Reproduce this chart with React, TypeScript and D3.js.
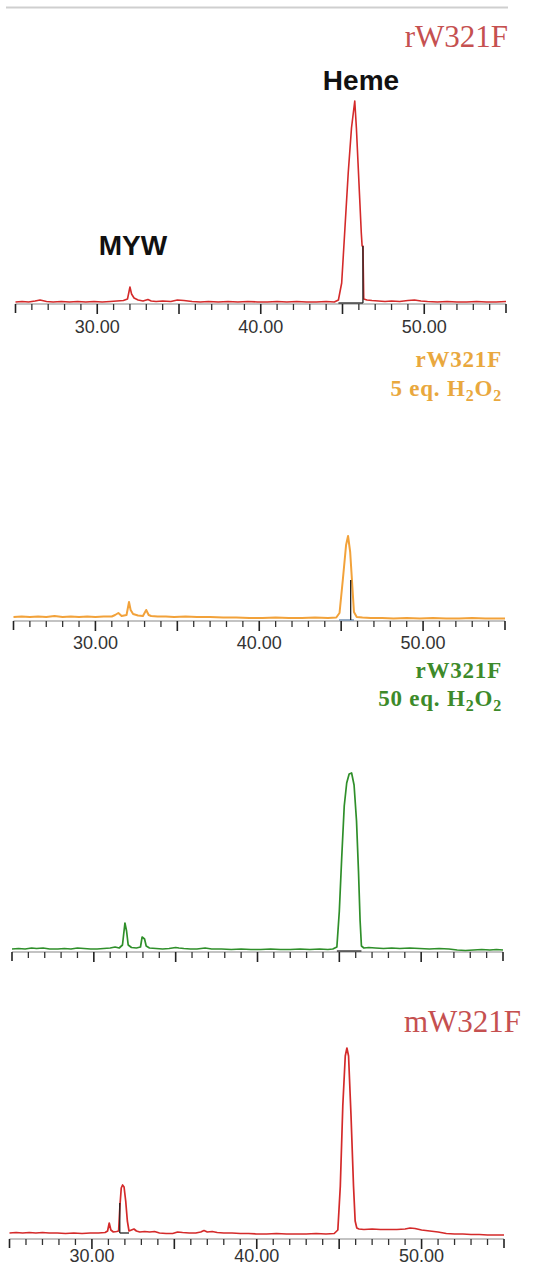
import React from "react";
import * as d3 from "d3";

// Retention time (min) vs detector signal (height above baseline)
const traceRW321F: [number, number][] = [
  [25.0, 1], [25.4, 1.5], [25.8, 1], [26.2, 2], [26.5, 3], [26.9, 1.5], [27.3, 1], [27.8, 1.5],
  [28.3, 1], [28.8, 1.5], [29.3, 1], [29.8, 1.5], [30.3, 1], [30.8, 1.5], [31.2, 2], [31.6, 2.5],
  [31.85, 4], [32.0, 16], [32.1, 9], [32.25, 5], [32.5, 3], [32.8, 2], [33.1, 3.5], [33.3, 2],
  [33.6, 1.5], [34.0, 2], [34.5, 1.5], [34.9, 3], [35.3, 2.5], [35.8, 1.5], [36.3, 1], [36.8, 1.5],
  [37.4, 1], [38.0, 1.5], [38.6, 1], [39.2, 1.5], [39.8, 1], [40.4, 1], [41.0, 1.5], [41.6, 1],
  [42.2, 1.5], [42.8, 1], [43.4, 1], [44.0, 1.5], [44.5, 1], [44.75, 3], [44.95, 20], [45.15, 75],
  [45.35, 130], [45.55, 175], [45.75, 202], [45.85, 175], [45.95, 140], [46.05, 105], [46.15, 70],
  [46.2, 57], [46.25, 57], [46.3, 4], [46.5, 3], [46.8, 2.5], [47.2, 2], [47.6, 1.5], [48.0, 2],
  [48.5, 1.5], [49.0, 2.5], [49.4, 3], [49.8, 2], [50.2, 1.5], [50.8, 1], [51.4, 1.5], [52.0, 1],
  [52.6, 1], [53.2, 1.5], [53.8, 1], [54.4, 1], [55.0, 1.5],
];

const traceRW321F5eq: [number, number][] = [
  [25.0, 3], [25.5, 3.5], [26.0, 3], [26.5, 3.5], [27.0, 3], [27.5, 4], [28.0, 3], [28.5, 3.5],
  [29.0, 3], [29.5, 3.5], [30.0, 3], [30.5, 3.5], [31.0, 3.5], [31.2, 5], [31.4, 7], [31.6, 4],
  [31.9, 5], [32.05, 18], [32.15, 10], [32.3, 6], [32.6, 4.5], [32.9, 4], [33.1, 10], [33.25, 5],
  [33.4, 4], [33.8, 3.5], [34.3, 3.5], [34.8, 3], [35.5, 3.5], [36.2, 3], [37.0, 3], [37.8, 2.5],
  [38.6, 2.5], [39.4, 2], [40.2, 2], [41.0, 2.5], [41.8, 2], [42.6, 2], [43.4, 2.5], [44.2, 2],
  [44.7, 2.5], [44.9, 7], [45.1, 40], [45.3, 75], [45.42, 84], [45.55, 68], [45.65, 42], [45.78, 8],
  [45.95, 3], [46.3, 2.5], [46.8, 2], [47.5, 2], [48.2, 1.5], [49.0, 2], [49.8, 1.5], [50.6, 2],
  [51.4, 1.5], [52.2, 1.5], [53.0, 2], [53.8, 1.5], [54.5, 1.5], [55.0, 1.5],
];

const traceRW321F50eq: [number, number][] = [
  [25.0, 2], [25.4, 2.5], [25.8, 2], [26.2, 3], [26.5, 2.5], [26.9, 3], [27.3, 2], [27.8, 2],
  [28.2, 2.5], [28.6, 2], [29.0, 3], [29.4, 2.5], [29.8, 2], [30.2, 2], [30.6, 2.5], [31.0, 3],
  [31.3, 4], [31.55, 3], [31.75, 6], [31.9, 28], [32.0, 20], [32.1, 6], [32.3, 3.5], [32.6, 3],
  [32.85, 4], [32.95, 14], [33.1, 12], [33.2, 5], [33.4, 3], [33.8, 2.5], [34.2, 2], [34.6, 2.5],
  [35.0, 3.5], [35.2, 3], [35.5, 2.5], [35.9, 2], [36.3, 2], [36.8, 3], [37.2, 2], [37.8, 2],
  [38.4, 1.5], [39.0, 2], [39.6, 1.5], [40.2, 1.5], [40.8, 2], [41.4, 1.5], [42.0, 1.5], [42.6, 2],
  [43.2, 1.5], [43.8, 2], [44.3, 1.5], [44.6, 2], [44.85, 4], [45.0, 40], [45.15, 95], [45.3, 145],
  [45.45, 168], [45.6, 177], [45.75, 178], [45.9, 166], [46.05, 130], [46.17, 80], [46.27, 30],
  [46.35, 5], [46.5, 3], [46.8, 3.5], [47.2, 3], [47.7, 2.5], [48.2, 3], [48.7, 2.5], [49.3, 3],
  [49.9, 2.5], [50.5, 2], [51.1, 2.5], [51.7, 2], [52.2, 1], [52.7, 0.5], [53.2, 1], [53.7, 1.5],
  [54.2, 1], [54.6, 1.5], [55.0, 1],
];

const traceMW321F: [number, number][] = [
  [25.0, 3], [25.4, 3.5], [25.8, 3], [26.2, 3.5], [26.6, 3], [27.0, 3.5], [27.4, 3], [27.9, 3],
  [28.4, 2.5], [28.9, 3], [29.4, 2.5], [29.9, 3], [30.4, 3], [30.8, 3.5], [30.95, 5], [31.05, 13],
  [31.15, 6], [31.3, 4], [31.5, 4.5], [31.62, 5], [31.7, 30], [31.78, 48], [31.86, 51], [31.95, 49],
  [32.05, 35], [32.15, 15], [32.25, 5], [32.4, 6], [32.55, 7], [32.7, 5], [32.9, 4], [33.2, 4.5],
  [33.5, 4], [33.8, 4.5], [34.1, 3], [34.5, 2.5], [34.9, 2.5], [35.2, 4], [35.5, 3.5], [35.9, 3],
  [36.3, 3], [36.6, 4], [36.8, 5.5], [37.0, 4], [37.3, 4.5], [37.6, 3.5], [38.0, 3], [38.5, 3],
  [39.0, 2.5], [39.5, 2.5], [40.0, 2], [40.6, 2], [41.2, 2.5], [41.8, 2], [42.4, 2], [43.0, 2],
  [43.6, 2.5], [44.2, 2], [44.7, 2.5], [44.92, 6], [45.07, 50], [45.22, 130], [45.37, 180],
  [45.47, 188], [45.57, 180], [45.72, 120], [45.87, 50], [45.97, 15], [46.07, 8], [46.2, 7],
  [46.5, 6.5], [47.0, 7], [47.5, 6.5], [48.0, 6.5], [48.5, 6.5], [49.0, 7], [49.3, 8], [49.6, 7.5],
  [50.0, 6], [50.5, 5], [51.0, 4], [51.5, 2.5], [52.0, 2], [52.5, 2], [53.0, 1.5], [53.5, 1.5],
  [54.0, 1], [54.5, 1], [55.0, 1],
];

// Integration markers: [t0, h0, t1, h1]
const marksRW321F: [number, number, number, number][] = [[44.75, 0, 46.25, 0], [46.25, 0, 46.25, 57]];
const marksRW321F5eq: [number, number, number, number][] = [[45.58, 0, 45.58, 40]];
const baseMarksRW321F5eq: [number, number, number, number][] = [[44.87, 0, 45.78, 0]];
const marksRW321F50eq: [number, number, number, number][] = [[44.85, 0, 46.35, 0]];
const marksMW321F: [number, number, number, number][] = [[31.69, 3, 31.69, 33], [31.69, 3, 32.25, 3]];

const timeDomain: [number, number] = [25, 55];
const minorTicks = d3.range(25, 56, 1);
const tickLabels = [30, 40, 50];

const noMarks: [number, number, number, number][] = [];

const panels = [
  { trace: traceRW321F, color: "#d42a2a", sw: 1.6, x0: 15.5, x1: 506, axisY: 304, baseY: 303, labels: true, labelDy: 29, marks: marksRW321F, baseMarks: noMarks },
  { trace: traceRW321F5eq, color: "#f2a23a", sw: 2, x0: 13.5, x1: 505, axisY: 621, baseY: 620, labels: true, labelDy: 28, marks: marksRW321F5eq, baseMarks: baseMarksRW321F5eq },
  { trace: traceRW321F50eq, color: "#2f8f2a", sw: 1.7, x0: 12, x1: 503, axisY: 952, baseY: 951, labels: false, labelDy: 28, marks: marksRW321F50eq, baseMarks: noMarks },
  { trace: traceMW321F, color: "#d42a2a", sw: 1.7, x0: 9.5, x1: 504, axisY: 1239, baseY: 1236, labels: true, labelDy: 23, marks: marksMW321F, baseMarks: noMarks },
];

function Panel({ p }: { p: (typeof panels)[number] }) {
  const x = d3.scaleLinear().domain(timeDomain).range([p.x0, p.x1]);
  const y = d3.scaleLinear().domain([0, 250]).range([p.baseY, p.baseY - 250]);
  const line = d3
    .line<[number, number]>()
    .x((d) => x(d[0]))
    .y((d) => y(d[1]));
  return (
    <g>
      <line x1={p.x0} x2={p.x1} y1={p.axisY} y2={p.axisY} stroke="#888" strokeWidth={1.2} />
      {minorTicks.map((t) => {
        const major = t % 5 === 0;
        const end = t === 25 || t === 55;
        const len = major ? (end ? 9 : 10) : 6;
        return (
          <line
            key={t}
            x1={x(t)}
            x2={x(t)}
            y1={p.axisY}
            y2={p.axisY + len}
            stroke={major ? "#222" : "#333"}
            strokeWidth={major ? 1.6 : 1.3}
          />
        );
      })}
      {p.labels &&
        tickLabels.map((t) => (
          <text
            key={t}
            x={x(t)}
            y={p.axisY + p.labelDy}
            textAnchor="middle"
            fontFamily="Liberation Sans, Arial, sans-serif"
            fontSize={18}
            fill="#333"
          >
            {d3.format(".2f")(t)}
          </text>
        ))}
      {p.baseMarks.map((m, i) => (
        <line key={"b" + i} x1={x(m[0])} x2={x(m[2])} y1={y(m[1])} y2={y(m[3])} stroke="#7d98b8" strokeWidth={1.6} />
      ))}
      <path d={line(p.trace) || ""} fill="none" stroke={p.color} strokeWidth={p.sw} strokeLinejoin="round" />
      {p.marks.map((m, i) => (
        <line key={"m" + i} x1={x(m[0])} x2={x(m[2])} y1={y(m[1])} y2={y(m[3])} stroke="#222" strokeWidth={1.3} />
      ))}
    </g>
  );
}

export default function App() {
  const serif = "Liberation Serif, Times New Roman, serif";
  const sans = "Liberation Sans, Arial, sans-serif";
  return (
    <svg
      width={535}
      height={1270}
      style={{ position: "absolute", left: 0, top: 0, background: "#fff" }}
    >
      <rect width={535} height={1270} fill="#fff" />
      <line x1={6} x2={508} y1={7.5} y2={7.5} stroke="#cfcfcf" strokeWidth={2} />
      <text x={508} y={47} textAnchor="end" fontFamily={serif} fontSize={31} fill="#c55050">rW321F</text>
      <text x={361} y={90} textAnchor="middle" fontFamily={sans} fontWeight="bold" fontSize={28} fill="#111">Heme</text>
      <text x={133} y={255} textAnchor="middle" fontFamily={sans} fontWeight="bold" fontSize={28} fill="#111">MYW</text>

      <text x={502} y={367} textAnchor="end" fontFamily={serif} fontWeight="bold" fontSize={23} letterSpacing={0.8} fill="#e9a83e">rW321F</text>
      <text x={502} y={396} textAnchor="end" fontFamily={serif} fontWeight="bold" fontSize={23} letterSpacing={0.8} fill="#e9a83e">
        5 eq. H<tspan fontSize={16} dy={5}>2</tspan><tspan dy={-5}>O</tspan><tspan fontSize={16} dy={5}>2</tspan>
      </text>

      <text x={502} y={678} textAnchor="end" fontFamily={serif} fontWeight="bold" fontSize={23} letterSpacing={0.8} fill="#3d8a2a">rW321F</text>
      <text x={502} y={706} textAnchor="end" fontFamily={serif} fontWeight="bold" fontSize={23} letterSpacing={0.8} fill="#3d8a2a">
        50 eq. H<tspan fontSize={16} dy={5}>2</tspan><tspan dy={-5}>O</tspan><tspan fontSize={16} dy={5}>2</tspan>
      </text>

      <text x={521} y={1032} textAnchor="end" fontFamily={serif} fontSize={31} fill="#c55050">mW321F</text>

      {panels.map((p, i) => (
        <Panel key={i} p={p} />
      ))}
    </svg>
  );
}
